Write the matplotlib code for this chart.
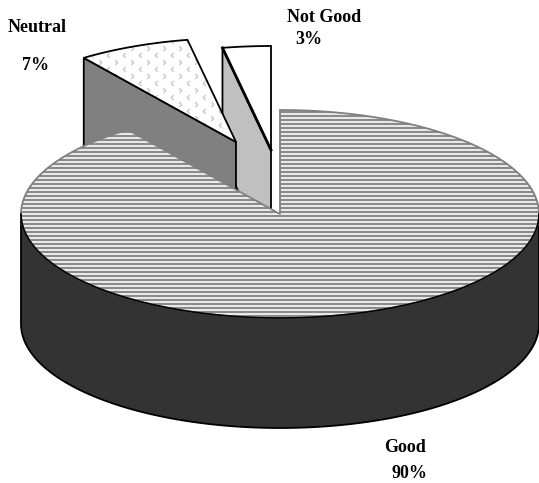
import numpy as np
import matplotlib
matplotlib.use("Agg")
import matplotlib.pyplot as plt
from matplotlib.patches import Polygon
from matplotlib.path import Path

# datos del grafico
categorias = ["Good", "Neutral", "Not Good"]
valores = [90, 7, 3]
etiquetas = ["90%", "7%", "3%"]

# geometria del pie en pixeles
CX, CY = 280, 214
RX, RY = 259, 104
PROF = 110
OFFSET_NEUTRAL = (-44, -72)
OFFSET_NOTGOOD = (-9, -64)

plt.rcParams["font.family"] = ["Liberation Serif", "DejaVu Serif"]


def punto(frac):
    # fraccion del circulo, horario desde las 12
    t = 2 * np.pi * np.asarray(frac)
    return CX + RX * np.sin(t), CY - RY * np.cos(t)


def cuna(f0, f1, off=(0, 0)):
    fr = np.linspace(f0, f1, 300)
    x, y = punto(fr)
    xs = np.r_[CX, x] + off[0]
    ys = np.r_[CY, y] + off[1]
    return np.column_stack([xs, ys])


fig = plt.figure(figsize=(5.39, 4.83), dpi=100)
ax = fig.add_axes([0, 0, 1, 1])
ax.set_xlim(0, 539)
ax.set_ylim(483, 0)
ax.axis("off")

total = sum(valores)
f_good = valores[0] / total
f_neutral = f_good + valores[1] / total

# --- Neutral ---
p_n = cuna(f_good, f_neutral, OFFSET_NEUTRAL)
apex_n, izq_n = p_n[0], p_n[1]
pared_n = [izq_n, apex_n, apex_n + [0, PROF], izq_n + [0, PROF]]

# --- Not Good (va detras de Neutral) ---
p_b = cuna(f_neutral, 1.0, OFFSET_NOTGOOD)
apex_b, izq_b = p_b[0], p_b[1]
pared_b = [izq_b, apex_b, apex_b + [0, PROF], izq_b + [0, PROF]]
ax.add_patch(Polygon(pared_b, fc="#c0c0c0", ec="black", lw=1.3, zorder=2))
ax.add_patch(Polygon(p_b, fc="white", ec="black", lw=1.3, zorder=3))
ax.plot([izq_b[0], apex_b[0]], [izq_b[1], apex_b[1]], color="black", lw=2, zorder=3)

ax.add_patch(Polygon(pared_n, fc="#808080", ec="black", lw=1.3, zorder=4))
top_n = Polygon(p_n, fc="white", ec="none", zorder=5)
ax.add_patch(top_n)

# textura de chevrones del trozo Neutral
chev_der = Path([(-0.5, -1), (0.5, 0), (-0.5, 1)], [Path.MOVETO, Path.LINETO, Path.LINETO])
chev_izq = Path([(0.5, -1), (-0.5, 0), (0.5, 1)], [Path.MOVETO, Path.LINETO, Path.LINETO])
gx, gy = np.meshgrid(np.arange(84, 214, 16), np.arange(34, 150, 14))
for marca, dx, dy in ((chev_der, 0, 0), (chev_izq, 8, 7)):
    lin, = ax.plot(gx.ravel() + dx, gy.ravel() + dy, ls="none", marker=marca, ms=3.5,
                   mfc="none", mec="#c8c8c8", mew=1.0, zorder=5)
    lin.set_clip_path(top_n)
ax.add_patch(Polygon(p_n, fc="none", ec="black", lw=1.3, zorder=6))

# --- Good: lateral ---
fr = np.linspace(0.25, 0.75, 300)
x, y = punto(fr)
lado = np.r_[np.column_stack([x, y]), np.column_stack([x, y + PROF])[::-1]]
ax.add_patch(Polygon(lado, fc="#333333", ec="black", lw=1.3, zorder=7))

# --- Good: tapa rayada ---
p_g = cuna(0.0, f_good)
top_g = Polygon(p_g, fc="#e8e8e8", ec="none", zorder=8)
ax.add_patch(top_g)
rayas = ax.hlines(np.arange(108, 322, 4), 0, 539, color="#8a8a8a", lw=1.44, zorder=8)
rayas.set_clip_path(top_g)
ax.add_patch(Polygon(p_g, fc="none", ec="#808080", lw=1.3, zorder=9))

# borde negro de la curva frontal
ax.plot(x, y, color="black", lw=1.2, zorder=9)

# --- Etiquetas ---
estilo = dict(fontsize=13, fontweight="bold", color="black", va="center", ha="left")
ax.text(8, 28, categorias[1], **estilo)
ax.text(22, 65, etiquetas[1], **estilo)
ax.text(287, 17, categorias[2], **estilo)
ax.text(295, 39, etiquetas[2], **estilo)
ax.text(384, 447, categorias[0], **estilo)
ax.text(391, 473, etiquetas[0], **estilo)

fig.savefig("out.png", dpi=100)
